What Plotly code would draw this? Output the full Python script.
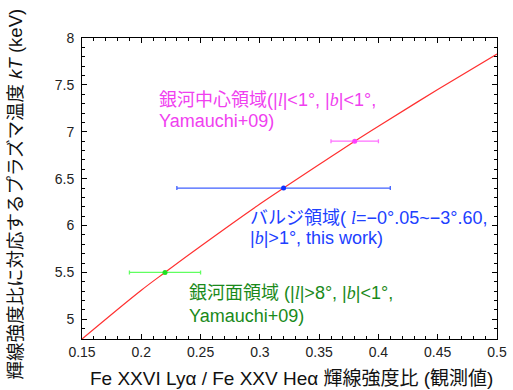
import plotly.graph_objects as go

# Model curve (red): line-ratio vs plasma temperature
curve_ratio = [0.15, 0.20, 0.22, 0.25, 0.30, 0.32, 0.35, 0.38, 0.40, 0.45, 0.50]
curve_kT = [4.79, 5.31, 5.50, 5.78, 6.23, 6.40, 6.65, 6.90, 7.06, 7.45, 7.83]

# Observed points
gc_x, gc_y, gc_err = [0.38], [6.90], [0.02]           # Galactic center
bulge_x, bulge_y, bulge_err = [0.32], [6.40], [0.09]  # Bulge
plane_x, plane_y, plane_err = [0.22], [5.50], [0.03]  # Galactic plane

x_ticks = [0.15, 0.2, 0.25, 0.3, 0.35, 0.4, 0.45, 0.5]
y_ticks = [5, 5.5, 6, 6.5, 7, 7.5, 8]

FONT = "Liberation Sans, Arial, Noto Sans CJK JP, sans-serif"
SERIF_I = lambda s: '<span style="font-family:Liberation Serif, serif"><i>%s</i></span>' % s

fig = go.Figure()
fig.add_trace(go.Scatter(x=curve_ratio, y=curve_kT, mode="lines",
                         line=dict(color="#ff3030", width=1.2, shape="spline"), showlegend=False))

def pt(x, y, e, col, ecol):
    fig.add_trace(go.Scatter(x=x, y=y, mode="markers",
                             marker=dict(color=col, size=5),
                             error_x=dict(type="data", array=e, color=ecol, thickness=1.3, width=2),
                             showlegend=False))

pt(gc_x, gc_y, gc_err, "#ff40ff", "#ff70ff")
pt(bulge_x, bulge_y, bulge_err, "#1030ff", "#4060ff")
pt(plane_x, plane_y, plane_err, "#20e020", "#60ff60")

def label(x, y, text, color):
    fig.add_annotation(x=x, y=y, xref="x", yref="y", xanchor="left", yanchor="middle", align="left",
                       text=text, showarrow=False, font=dict(size=18, color=color, family=FONT))

L, B = SERIF_I("l"), SERIF_I("b")
label(0.2133, 7.339, "銀河中心領域(|%s|<1°, |%s|<1°," % (L, B), "#f040f0")
label(0.2133, 7.115, "Yamauchi+09)", "#f040f0")
label(0.2900, 6.080, "バルジ領域( %s=−0°.05~−3°.60," % L, "#2040ff")
label(0.2900, 5.867, "|%s|>1°, this work)" % B, "#2040ff")
label(0.2386, 5.281, "銀河面領域 (|%s|>8°, |%s|<1°," % (L, B), "#1a8a1a")
label(0.2386, 5.035, "Yamauchi+09)", "#1a8a1a")

# axis titles
fig.add_annotation(xref="paper", yref="paper", x=0.506, y=-0.1296, xanchor="center", yanchor="middle",
                   text="Fe XXVI Lyα / Fe XXV Heα 輝線強度比 (観測値)", showarrow=False,
                   font=dict(size=19, color="#111", family=FONT))
fig.add_annotation(xref="paper", yref="paper", x=-0.159, y=0.48, xanchor="center", yanchor="middle",
                   textangle=-90, text="輝線強度比に対応するプラズマ温度 <i>kT</i> (keV)", showarrow=False,
                   font=dict(size=18.5, color="#111", family=FONT))

axis_common = dict(showline=True, linecolor="black", linewidth=1, mirror="allticks", ticks="inside",
                   ticklen=5, tickcolor="black", showgrid=False, zeroline=False, automargin=False,
                   tickfont=dict(size=14, color="#222", family=FONT))

fig.update_xaxes(range=[0.15, 0.5], tickvals=x_ticks, ticktext=[str(v) for v in x_ticks],
                 minor=dict(dtick=0.01, tick0=0.15, ticks="inside", ticklen=3, tickcolor="black"),
                 **axis_common)
fig.update_yaxes(range=[4.79, 8], tickvals=y_ticks, ticktext=[str(v) for v in y_ticks],
                 minor=dict(dtick=0.1, tick0=5, ticks="inside", ticklen=3, tickcolor="black"),
                 ticklabelstandoff=4,
                 **axis_common)

fig.update_layout(width=513, height=390, margin=dict(l=82, r=16, t=38, b=51),
                  plot_bgcolor="white", paper_bgcolor="white", font=dict(family=FONT))
fig.write_html("out.html", config={"displayModeBar": False},
               post_script="document.body.style.margin='0';")
